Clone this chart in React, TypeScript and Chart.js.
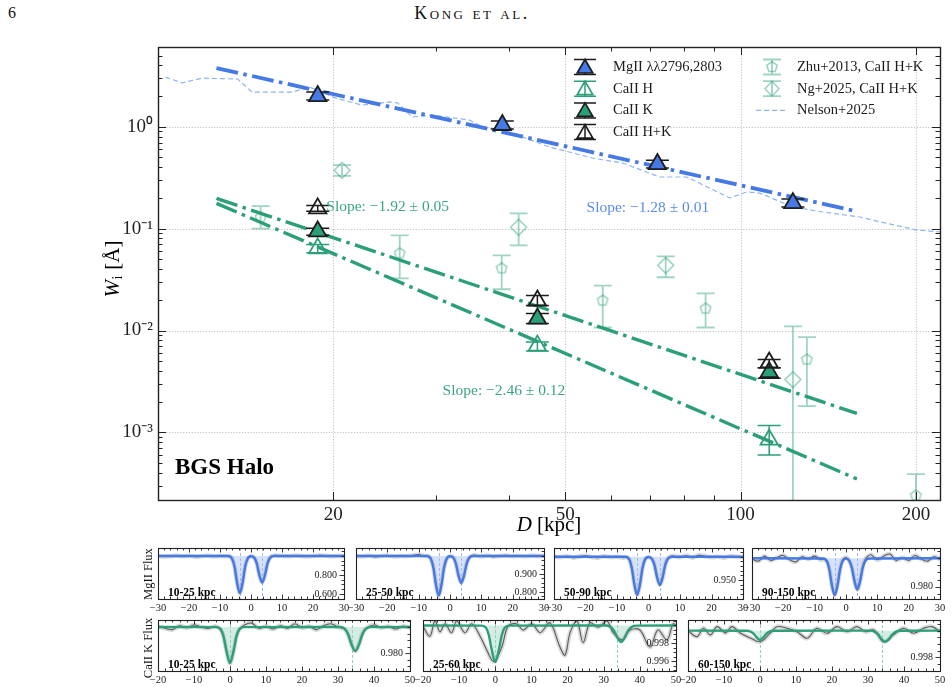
import React, { useEffect, useRef } from 'react';
import { Chart, registerables } from 'chart.js';

Chart.register(...registerables);

const SERIF = '"Liberation Serif", "Times New Roman", Times, serif';
const INK = '#1c1c1c';
const BLUE = '#4479e6';
const BLUE_TEXT = '#5a8cf0';
const BLUE_PALE = '#8fb3f7';
const GREEN = '#2b9f77';
const GREEN_TEXT = '#3aa680';
const GREEN_SOFT = 'rgba(43,159,119,0.45)';

// ---------- equivalent width vs. projected distance ----------
const D_TICKS = [20, 50, 100, 200];
const W_TICKS = [1e-3, 1e-2, 1e-1, 1];
const D_RANGE = [10, 220];
const W_RANGE = [2.17e-4, 6.06];

const MGII_D = [18.8, 39.0, 72.0, 123.0];
const MGII_W = [2.0, 1.04, 0.43, 0.178];
const MGII_LO = [1.83, 0.95, 0.393, 0.163];
const MGII_HI = [2.19, 1.14, 0.47, 0.195];

const CAII_D = [18.8, 44.8, 112.0];
const CAH_W = [0.064, 0.0071, 0.00085];
const CAH_LO = [0.058, 0.0063, 0.0006];
const CAH_HI = [0.07, 0.0077, 0.00117];
const CAK_W = [0.094, 0.0131, 0.0039];
const CAK_LO = [0.086, 0.0117, 0.0034];
const CAK_HI = [0.101, 0.0147, 0.0043];
const CAHK_W = [0.158, 0.0197, 0.00486];
const CAHK_LO = [0.148, 0.0176, 0.0043];
const CAHK_HI = [0.169, 0.0221, 0.0052];

const ZHU_D = [15.0, 26.0, 38.9, 58.0, 87.1, 130.0, 200.0];
const ZHU_W = [0.129, 0.0573, 0.0408, 0.0197, 0.0164, 0.00519, 0.00024];
const ZHU_LO = [0.1, 0.0325, 0.0254, 0.0107, 0.0107, 0.00181, 0.00001];
const ZHU_HI = [0.166, 0.086, 0.0547, 0.0276, 0.0231, 0.0086, 0.00039];

const NG_D = [20.7, 41.6, 74.4, 123.0];
const NG_W = [0.373, 0.103, 0.0436, 0.0033];
const NG_LO = [0.33, 0.0686, 0.0333, 0.00001];
const NG_HI = [0.42, 0.141, 0.0535, 0.011];

const NELSON_D = [10.3, 11.0, 11.9, 13.7, 14.5, 17.0, 18.2, 20.2, 22.4, 25.0, 25.8, 27.3, 29.6, 34.3, 36.1, 40.1, 47.0, 55.7, 62.8, 72.6, 80.8, 95.8, 102.5, 107.9, 122.9, 138.4, 160.3, 168.7, 200.8, 220.0];
const NELSON_W = [3.07, 2.69, 3.0, 2.94, 2.19, 2.19, 2.45, 1.91, 1.63, 1.75, 1.71, 1.245, 1.3, 1.16, 0.99, 0.887, 0.632, 0.493, 0.44, 0.321, 0.321, 0.2, 0.229, 0.223, 0.163, 0.1455, 0.13, 0.121, 0.0968, 0.0926];

// power-law fits, W = W20 * (D / 20)^slope  (MgII, CaII K, CaII H)
const FIT_D = [12.6, 158.4];
const FIT_PIVOT = 20;
const FIT_SLOPE = [-1.28, -1.92, -2.46];
const FIT_SLOPE_ERR = [0.01, 0.05, 0.12];
const FIT_W20 = [2.086, 0.0815, 0.0568];
// where each slope annotation sits (D, W)
const SLOPE_AT_D = [54.4, 19.45, 30.8];
const SLOPE_AT_W = [0.159, 0.162, 0.00258];

const LEGEND_LEFT = ['MgII \u03bb\u03bb2796,2803', 'CaII H', 'CaII K', 'CaII H+K'];
const LEGEND_RIGHT = ['Zhu+2013, CaII H+K', 'Ng+2025, CaII H+K', 'Nelson+2025'];

// ---------- stacked spectra ----------
const MG_VEL_TICKS = [-30, -20, -10, 0, 10, 20, 30];
const MG_LINE_CENTERS = [-3.6, 3.6];
const MG_BINS = ['10-25 kpc', '25-50 kpc', '50-90 kpc', '90-150 kpc'];
const MG_MODEL_VEL = [-30, -7.5, -6.1, -5.3, -4.5, -3.6, -2.7, -1.9, -1.1, 0, 1.1, 1.9, 2.7, 3.6, 4.5, 5.3, 6.1, 7.5, 30];
const MG_MODEL_1 = [1, 0.999, 0.97, 0.883, 0.719, 0.61, 0.719, 0.883, 0.97, 0.997, 0.979, 0.916, 0.798, 0.72, 0.798, 0.916, 0.979, 0.999, 1];
const MG_MODEL_2 = [1, 0.9995, 0.983, 0.934, 0.842, 0.78, 0.842, 0.934, 0.983, 0.998, 0.989, 0.955, 0.892, 0.85, 0.892, 0.955, 0.989, 0.9997, 1];
const MG_MODEL_3 = [1, 0.9998, 0.994, 0.975, 0.941, 0.918, 0.941, 0.975, 0.994, 0.9993, 0.995, 0.982, 0.956, 0.939, 0.956, 0.982, 0.995, 0.9999, 1];
const MG_MODEL_4 = [1, 0.9999, 0.998, 0.992, 0.981, 0.974, 0.981, 0.992, 0.998, 0.9998, 0.998, 0.993, 0.984, 0.978, 0.984, 0.993, 0.998, 0.9999, 1];
const MG_OBS_VEL = [-30, -28, -26, -24, -22, -20, -18, -16, -14, -12, -10, -8, -7, -6.1, -5.3, -4.5, -3.6, -2.7, -1.9, -1.1, 0, 1.1, 1.9, 2.7, 3.6, 4.5, 5.3, 6.1, 7, 8, 10, 12, 14, 16, 18, 20, 22, 24, 26, 28, 30];
const MG_OBS_1 = [1.0, 0.994, 0.998, 1.004, 0.996, 1.002, 0.993, 0.997, 1.005, 0.995, 1.001, 0.996, 1.002, 0.972, 0.884, 0.72, 0.612, 0.717, 0.882, 0.968, 0.994, 0.981, 0.914, 0.797, 0.722, 0.8, 0.918, 0.982, 1.003, 1.006, 1.002, 0.996, 1.004, 1.001, 0.995, 0.999, 1.006, 1.003, 0.996, 1.0, 0.998];
const MG_OBS_2 = [1.0, 0.997, 1.002, 0.996, 0.999, 1.003, 0.997, 1.0, 0.998, 1.002, 1.007, 0.998, 1.0, 0.984, 0.934, 0.843, 0.781, 0.842, 0.933, 0.982, 0.997, 0.99, 0.955, 0.891, 0.851, 0.893, 0.956, 0.99, 1.002, 1.004, 0.997, 1.002, 0.996, 1.0, 1.003, 0.998, 1.001, 0.997, 1.002, 0.999, 1.0];
const MG_OBS_3 = [1.0, 0.999, 1.001, 0.998, 1.0, 1.002, 0.999, 0.998, 1.001, 0.999, 1.0, 0.998, 0.999, 0.994, 0.975, 0.941, 0.919, 0.94, 0.976, 0.993, 0.999, 0.995, 0.982, 0.957, 0.94, 0.955, 0.981, 0.996, 1.001, 1.001, 0.999, 1.002, 0.998, 1.003, 1.001, 0.999, 1.0, 0.998, 1.001, 1.0, 0.999];
const MG_OBS_4 = [0.9995, 0.998, 1.0015, 0.9985, 1.0005, 1.002, 0.999, 0.9975, 1.001, 0.9995, 1.0015, 0.999, 0.9995, 0.9975, 0.992, 0.981, 0.9745, 0.9815, 0.992, 0.9985, 1.0005, 0.998, 0.993, 0.984, 0.978, 0.9835, 0.9935, 0.999, 1.0015, 1.0025, 0.999, 1.0015, 1.003, 0.9985, 1.0005, 0.9985, 1.002, 0.9995, 0.998, 1.001, 0.9995];
const MG_Y_MIN = [0.547, 0.761, 0.9092, 0.97134];
const MG_Y_MAX = [1.084, 1.044, 1.0187, 1.00725];
const MG_Y_LABELS = [[0.6, 0.8], [0.8, 0.9], [0.95], [0.98]];
const MG_Y_MINOR = [0.05, 0.025, 0.01, 0.005];

const CA_VEL_TICKS = [-20, -10, 0, 10, 20, 30, 40, 50];
const CA_LINE_CENTERS = [0, 33.8];
const CA_BINS = ['10-25 kpc', '25-60 kpc', '60-150 kpc'];
const CA_MODEL_VEL = [-20, -3.8, -2.6, -1.8, -1, 0, 1, 1.8, 2.6, 3.8, 30.5, 31.8, 32.8, 33.8, 34.8, 35.8, 36.8, 37.8, 39.1, 50];
const CA_MODEL_1 = [1, 0.9999, 0.9983, 0.9928, 0.9817, 0.9723, 0.9817, 0.9928, 0.9983, 0.9999, 1, 0.9987, 0.9945, 0.9863, 0.9815, 0.9863, 0.9945, 0.9987, 0.9999, 1];
const CA_MODEL_2 = [1, 0.99999, 0.99976, 0.99894, 0.99732, 0.99594, 0.99732, 0.99894, 0.99976, 0.99999, 1, 0.99987, 0.99945, 0.99865, 0.99817, 0.99865, 0.99945, 0.99987, 0.99999, 1];
const CA_MODEL_3 = [1, 0.99999, 0.99993, 0.99978, 0.99952, 0.9993, 0.99952, 0.99978, 0.99993, 0.99999, 1, 0.99993, 0.99972, 0.99935, 0.99917, 0.99935, 0.99972, 0.99993, 0.99999, 1];
const CA_OBS_VEL_1 = [-20, -18, -16, -14, -12, -10, -8, -6, -4, -2.6, -1.8, -1, 0, 1, 1.8, 2.6, 4, 6, 8, 10, 12, 14, 16, 18, 20, 22, 24, 26, 28, 30, 31.8, 32.8, 33.8, 34.8, 35.8, 36.8, 37.8, 40, 42, 44, 46, 48, 50];
const CA_OBS_1 = [1.0005, 0.999, 0.998, 1.001, 0.9995, 1.0015, 1.0, 0.999, 1.0005, 0.998, 0.9925, 0.982, 0.9725, 0.9815, 0.993, 0.998, 1.0015, 1.003, 0.999, 1.0005, 0.9985, 1.001, 0.999, 1.0025, 0.9995, 1.0005, 0.998, 1.001, 1.0025, 1.0, 0.9985, 0.994, 0.986, 0.9815, 0.9865, 0.995, 0.999, 1.0015, 0.9995, 1.0005, 0.9985, 1.0005, 0.9995];
const CA_OBS_VEL_2 = [-20, -18.1, -16.7, -15.3, -13.9, -12.1, -10.7, -8.4, -6.5, -4.2, -2.4, -0.4, 1.8, 3.5, 5.9, 7.7, 10.1, 12.4, 15.1, 17.9, 19.3, 20.7, 22.6, 24.3, 26.2, 28.4, 30.9, 32.6, 35.1, 37.3, 40.0, 42.8, 45.0, 47.5, 49.2, 50];
const CA_OBS_2 = [0.9999, 0.9988, 1.0005, 0.9993, 1.0002, 0.9992, 1.0005, 0.9992, 1.0002, 0.9988, 0.9973, 0.996, 0.9976, 0.9999, 1.0002, 0.9995, 1.0002, 0.9992, 1.0003, 0.9976, 0.9967, 0.9992, 1.0005, 0.9981, 1.0003, 0.9998, 1.0005, 0.9992, 0.9984, 0.9995, 0.9995, 0.9976, 0.9995, 0.9984, 1.0002, 1.0];
const CA_OBS_VEL_3 = [-20, -17.5, -15.7, -13.8, -11.9, -9.6, -7.8, -5.5, -2.7, 0.1, 2.9, 4.7, 7.5, 10.3, 13.1, 15.8, 18.6, 21.4, 24.2, 26.9, 29.3, 31.6, 34.3, 37.1, 39.9, 42.7, 45.4, 47.8, 50];
const CA_OBS_3 = [1.0, 0.99955, 1.00018, 0.99968, 1.0003, 0.99983, 1.0003, 0.99983, 0.99945, 0.99917, 0.99983, 1.0003, 1.00018, 0.99992, 0.99943, 1.00018, 0.9998, 1.0003, 0.99992, 1.0003, 0.99992, 1.00005, 0.99917, 0.99968, 1.00018, 0.9998, 1.00018, 1.0003, 0.99992];
const CA_Y_MIN = [0.9662, 0.99494, 0.99697];
const CA_Y_MAX = [1.0054, 1.00061, 1.0008];
const CA_Y_LABELS = [[0.98], [0.996, 0.998], [0.998]];
const CA_Y_MINOR = [0.005, 0.0005, 0.0005];

// panel boxes in page pixels: [left, top, right, bottom]
const MG_BOXES = [[158, 548, 344, 599], [356, 548, 544, 599], [554, 548, 743, 599], [752, 548, 940, 599]];
const CA_BOXES = [[158, 620, 410, 671], [423, 620, 676, 671], [688, 620, 940, 671]];
const PAD_X = 16;
const PAD_T = 14;
const LABEL_H = 18;

// ---------- helpers ----------
const pts = (xs: number[], ys: number[]) => xs.map((x, i) => ({ x, y: ys[i] }));
const SUP: Record<string, string> = { '-': '\u207b', '0': '\u2070', '1': '\u00b9', '2': '\u00b2', '3': '\u00b3', '4': '\u2074' };
const decadeLabel = (v: number) => '10' + String(Math.round(Math.log10(v))).split('').map((c) => SUP[c]).join('');
const signed = (v: number) => (v < 0 ? '\u2212' + Math.abs(v) : String(v));

function trianglePath(ctx: CanvasRenderingContext2D, x: number, y: number, r: number) {
  ctx.beginPath();
  ctx.moveTo(x, y - r);
  ctx.lineTo(x + 0.866 * r, y + 0.5 * r);
  ctx.lineTo(x - 0.866 * r, y + 0.5 * r);
  ctx.closePath();
}
function pentagonPath(ctx: CanvasRenderingContext2D, x: number, y: number, r: number) {
  ctx.beginPath();
  for (let k = 0; k < 5; k++) {
    const a = -Math.PI / 2 + (k * 2 * Math.PI) / 5;
    const px = x + r * Math.cos(a);
    const py = y + r * Math.sin(a);
    if (k) ctx.lineTo(px, py);
    else ctx.moveTo(px, py);
  }
  ctx.closePath();
}
function makePentagon(r: number, color: string, lw: number) {
  const s = Math.ceil(2 * r + 2 * lw + 2);
  const c = document.createElement('canvas');
  c.width = s;
  c.height = s;
  const g = c.getContext('2d')!;
  g.strokeStyle = color;
  g.lineWidth = lw;
  pentagonPath(g, s / 2, s / 2, r);
  g.stroke();
  return c;
}
function errBar(ctx: CanvasRenderingContext2D, x: number, y0: number, y1: number, cap: number, color: string, lw: number) {
  ctx.strokeStyle = color;
  ctx.lineWidth = lw;
  ctx.beginPath();
  ctx.moveTo(x, y0);
  ctx.lineTo(x, y1);
  ctx.moveTo(x - cap, y0);
  ctx.lineTo(x + cap, y0);
  ctx.moveTo(x - cap, y1);
  ctx.lineTo(x + cap, y1);
  ctx.stroke();
}

// vertical error bars drawn just beneath their own markers
const errorBars = {
  id: 'errorBars',
  beforeDatasetDraw(chart: any, args: any) {
    const ds = chart.data.datasets[args.index];
    if (!ds.errLo) return;
    const { ctx, chartArea: a } = chart;
    const xs = chart.scales.x;
    const ys = chart.scales.y;
    ctx.save();
    ctx.beginPath();
    ctx.rect(a.left, a.top, a.right - a.left, a.bottom - a.top);
    ctx.clip();
    ds.data.forEach((p: any, i: number) => {
      const x = xs.getPixelForValue(p.x);
      errBar(ctx, x, ys.getPixelForValue(ds.errLo[i]), ys.getPixelForValue(ds.errHi[i]), ds.errCap, ds.errColor, ds.errWidth);
    });
    ctx.restore();
  },
};

const mainDecor = {
  id: 'mainDecor',
  beforeDatasetsDraw(chart: any) {
    const { ctx, chartArea: a } = chart;
    const xs = chart.scales.x;
    const ys = chart.scales.y;
    ctx.save();
    ctx.strokeStyle = '#b4b4b4';
    ctx.lineWidth = 0.8;
    ctx.setLineDash([1.2, 1.6]);
    ctx.beginPath();
    D_TICKS.forEach((v) => {
      const px = Math.round(xs.getPixelForValue(v)) + 0.5;
      ctx.moveTo(px, a.top);
      ctx.lineTo(px, a.bottom);
    });
    W_TICKS.forEach((v) => {
      const py = Math.round(ys.getPixelForValue(v)) + 0.5;
      ctx.moveTo(a.left, py);
      ctx.lineTo(a.right, py);
    });
    ctx.stroke();
    ctx.restore();
  },
  afterDatasetsDraw(chart: any) {
    const { ctx, chartArea: a } = chart;
    const xs = chart.scales.x;
    const ys = chart.scales.y;
    ctx.save();
    ctx.strokeStyle = '#222';
    ctx.lineWidth = 1;
    ctx.beginPath();
    const xVals: number[] = [];
    for (let k = 2; k <= 9; k++) xVals.push(k * 10);
    xVals.push(100, 200);
    xVals.forEach((v) => {
      const px = Math.round(xs.getPixelForValue(v)) + 0.5;
      const len = D_TICKS.includes(v) ? 8 : 4.5;
      ctx.moveTo(px, a.bottom);
      ctx.lineTo(px, a.bottom - len);
      ctx.moveTo(px, a.top);
      ctx.lineTo(px, a.top + len);
    });
    for (let e = -4; e <= 0; e++) {
      for (let k = 1; k <= 9; k++) {
        const v = k * Math.pow(10, e);
        if (v < W_RANGE[0] || v > W_RANGE[1]) continue;
        const py = Math.round(ys.getPixelForValue(v)) + 0.5;
        const len = k === 1 ? 8 : 4.5;
        ctx.moveTo(a.left, py);
        ctx.lineTo(a.left + len, py);
        ctx.moveTo(a.right, py);
        ctx.lineTo(a.right - len, py);
      }
    }
    ctx.stroke();
    ctx.lineWidth = 1.4;
    ctx.strokeRect(Math.round(a.left) + 0.5, Math.round(a.top) + 0.5, Math.round(a.right - a.left), Math.round(a.bottom - a.top));
    ctx.restore();
  },
  afterDraw(chart: any) {
    const { ctx, chartArea: a } = chart;
    const xs = chart.scales.x;
    const ys = chart.scales.y;
    ctx.save();

    // slope annotations
    ctx.font = `15.5px ${SERIF}`;
    ctx.textAlign = 'left';
    ctx.textBaseline = 'middle';
    const slopeColors = [BLUE_TEXT, GREEN_TEXT, GREEN_TEXT];
    FIT_SLOPE.forEach((s, i) => {
      ctx.fillStyle = slopeColors[i];
      const txt = `Slope: \u2212${Math.abs(s).toFixed(2)} \u00b1 ${FIT_SLOPE_ERR[i].toFixed(2)}`;
      ctx.fillText(txt, xs.getPixelForValue(SLOPE_AT_D[i]), ys.getPixelForValue(SLOPE_AT_W[i]));
    });

    // sample label
    ctx.fillStyle = '#000';
    ctx.font = `bold 23px ${SERIF}`;
    ctx.textBaseline = 'alphabetic';
    ctx.fillText('BGS Halo', a.left + 17, a.bottom - 26);

    // legend
    const rowY = (i: number) => a.top + 20 + i * 21.7;
    const x1 = a.left + 427;
    const t1 = a.left + 455;
    const x2 = a.left + 614;
    const t2 = a.left + 639;
    ctx.font = `14.5px ${SERIF}`;
    ctx.textBaseline = 'middle';
    ctx.fillStyle = INK;
    LEGEND_LEFT.forEach((label, i) => {
      const y = rowY(i);
      const barColor = i === 1 ? GREEN : INK;
      errBar(ctx, x1, y - 7.5, y + 7.5, 11, barColor, 1.5);
      trianglePath(ctx, x1, y + 1.5, 9);
      const fills = [BLUE, null, GREEN, null];
      const edges = [INK, GREEN, INK, INK];
      if (fills[i]) {
        ctx.fillStyle = fills[i] as string;
        ctx.fill();
      }
      ctx.strokeStyle = edges[i];
      ctx.lineWidth = 1.7;
      ctx.stroke();
      ctx.fillStyle = INK;
      ctx.fillText(label, t1, y);
    });
    LEGEND_RIGHT.forEach((label, i) => {
      const y = rowY(i);
      if (i < 2) {
        errBar(ctx, x2, y - 7.5, y + 7.5, 9, GREEN_SOFT, 1.8);
        ctx.strokeStyle = GREEN_SOFT;
        ctx.lineWidth = 1.6;
        if (i === 0) pentagonPath(ctx, x2, y, 5.5);
        else {
          ctx.beginPath();
          ctx.moveTo(x2 - 7, y);
          ctx.lineTo(x2, y - 7.5);
          ctx.lineTo(x2 + 7, y);
          ctx.lineTo(x2, y + 7.5);
          ctx.closePath();
        }
        ctx.stroke();
      } else {
        ctx.strokeStyle = BLUE_PALE;
        ctx.lineWidth = 1.2;
        ctx.setLineDash([5, 3]);
        ctx.beginPath();
        ctx.moveTo(x2 - 16, y);
        ctx.lineTo(x2 + 14, y);
        ctx.stroke();
        ctx.setLineDash([]);
      }
      ctx.fillStyle = INK;
      ctx.fillText(label, t2, y);
    });

    // axis titles
    ctx.fillStyle = '#000';
    ctx.textBaseline = 'middle';
    const cx = (a.left + a.right) / 2;
    ctx.font = `italic 21px ${SERIF}`;
    const wD = ctx.measureText('D').width;
    ctx.font = `21px ${SERIF}`;
    const wRest = ctx.measureText(' [kpc]').width;
    let x0 = cx - (wD + wRest) / 2;
    ctx.textAlign = 'left';
    ctx.font = `italic 21px ${SERIF}`;
    ctx.fillText('D', x0, a.bottom + 25);
    ctx.font = `21px ${SERIF}`;
    ctx.fillText(' [kpc]', x0 + wD, a.bottom + 25);

    ctx.translate(a.left - 45, (a.top + a.bottom) / 2 - 4);
    ctx.rotate(-Math.PI / 2);
    ctx.font = `italic 21px ${SERIF}`;
    const wW = ctx.measureText('W').width;
    ctx.font = `italic 14px ${SERIF}`;
    const wi = ctx.measureText('i').width;
    ctx.font = `21px ${SERIF}`;
    const wU = ctx.measureText(' [\u00c5]').width;
    x0 = -(wW + wi + wU) / 2;
    ctx.font = `italic 21px ${SERIF}`;
    ctx.fillText('W', x0, 0);
    ctx.font = `14px ${SERIF}`;
    ctx.fillText('i', x0 + wW + 0.5, 5);
    ctx.font = `21px ${SERIF}`;
    ctx.fillText(' [\u00c5]', x0 + wW + wi + 1, 0);
    ctx.restore();
  },
};

function MainChart() {
  const ref = useRef<HTMLCanvasElement>(null);
  useEffect(() => {
    const pent = makePentagon(5.5, GREEN_SOFT, 1.6);
    const fit = (i: number, color: string) => ({
      data: FIT_D.map((d) => ({ x: d, y: FIT_W20[i] * Math.pow(d / FIT_PIVOT, FIT_SLOPE[i]) })),
      showLine: true,
      borderColor: color,
      borderWidth: i === 0 ? 3.8 : 3.4,
      borderDash: [22, 5.5, 3.5, 5.5],
      borderCapStyle: 'butt',
      pointRadius: 0,
      tension: 0,
    });
    const tri = (d: number[], w: number[], lo: number[], hi: number[], fill: string, edge: string, bar: string) => ({
      data: pts(d, w),
      showLine: false,
      pointStyle: 'triangle',
      pointRadius: 10,
      pointBackgroundColor: fill,
      pointBorderColor: edge,
      pointBorderWidth: 1.8,
      errLo: lo,
      errHi: hi,
      errColor: bar,
      errCap: 11.5,
      errWidth: 1.5,
    });
    const chart = new Chart(ref.current!, {
      type: 'line',
      data: {
        datasets: [
          tri(MGII_D, MGII_W, MGII_LO, MGII_HI, BLUE, INK, INK),
          tri(CAII_D, CAHK_W, CAHK_LO, CAHK_HI, 'rgba(0,0,0,0)', INK, INK),
          tri(CAII_D, CAK_W, CAK_LO, CAK_HI, GREEN, INK, INK),
          tri(CAII_D, CAH_W, CAH_LO, CAH_HI, 'rgba(0,0,0,0)', GREEN, GREEN),
          {
            data: pts(NG_D, NG_W),
            showLine: false,
            pointStyle: 'rectRot',
            pointRadius: 8,
            pointBackgroundColor: 'rgba(0,0,0,0)',
            pointBorderColor: GREEN_SOFT,
            pointBorderWidth: 1.6,
            errLo: NG_LO,
            errHi: NG_HI,
            errColor: GREEN_SOFT,
            errCap: 9,
            errWidth: 1.8,
          },
          {
            data: pts(ZHU_D, ZHU_W),
            showLine: false,
            pointStyle: pent,
            pointRadius: 6,
            errLo: ZHU_LO,
            errHi: ZHU_HI,
            errColor: GREEN_SOFT,
            errCap: 9,
            errWidth: 1.8,
          },
          fit(0, BLUE),
          fit(1, GREEN),
          fit(2, GREEN),
          {
            data: pts(NELSON_D, NELSON_W),
            showLine: true,
            borderColor: BLUE_PALE,
            borderWidth: 1.2,
            borderDash: [5, 3],
            pointRadius: 0,
            tension: 0,
          },
        ] as any,
      },
      options: {
        responsive: false,
        animation: false,
        events: [],
        layout: { padding: { left: 98, top: 47, right: 12, bottom: 14 } },
        plugins: { legend: { display: false }, tooltip: { enabled: false } },
        scales: {
          x: {
            type: 'logarithmic',
            min: D_RANGE[0],
            max: D_RANGE[1],
            afterBuildTicks: (s: any) => {
              s.ticks = D_TICKS.map((v) => ({ value: v }));
            },
            afterFit: (s: any) => {
              s.height = 26;
            },
            ticks: {
              autoSkip: false,
              maxRotation: 0,
              padding: 4,
              color: '#222',
              font: { family: SERIF, size: 19 },
              callback: (v: any) => String(v),
            },
            grid: { display: false, drawTicks: false },
            border: { display: false },
          },
          y: {
            type: 'logarithmic',
            min: W_RANGE[0],
            max: W_RANGE[1],
            afterBuildTicks: (s: any) => {
              s.ticks = W_TICKS.map((v) => ({ value: v }));
            },
            afterFit: (s: any) => {
              s.width = 60;
            },
            ticks: {
              autoSkip: false,
              padding: 5,
              color: '#222',
              font: { family: SERIF, size: 19 },
              callback: (v: any) => decadeLabel(Number(v)),
            },
            grid: { display: false, drawTicks: false },
            border: { display: false },
          },
        },
      } as any,
      plugins: [errorBars, mainDecor],
    });
    return () => chart.destroy();
  }, []);
  return <canvas ref={ref} width={952} height={540} style={{ position: 'absolute', left: 0, top: 0 }} />;
}

type PanelSpec = {
  bin: string;
  modelVel: number[];
  model: number[];
  obsVel: number[];
  obs: number[];
  yMin: number;
  yMax: number;
  yLabels: number[];
  yMinor: number;
  velTicks: number[];
  centers: number[];
  line: string;
  fill: string;
  dash: string;
};

const panelDecor = (spec: PanelSpec) => ({
  id: 'panelDecor',
  beforeDatasetsDraw(chart: any) {
    const { ctx, chartArea: a } = chart;
    const xs = chart.scales.x;
    ctx.save();
    ctx.strokeStyle = spec.dash;
    ctx.lineWidth = 1;
    ctx.setLineDash([3, 2]);
    ctx.beginPath();
    spec.centers.forEach((c) => {
      const px = Math.round(xs.getPixelForValue(c)) + 0.5;
      ctx.moveTo(px, a.top);
      ctx.lineTo(px, a.bottom);
    });
    ctx.stroke();
    ctx.restore();
  },
  afterDatasetsDraw(chart: any) {
    const { ctx, chartArea: a } = chart;
    const xs = chart.scales.x;
    const ys = chart.scales.y;
    ctx.save();
    ctx.strokeStyle = '#222';
    ctx.lineWidth = 0.9;
    ctx.beginPath();
    const v0 = spec.velTicks[0];
    const v1 = spec.velTicks[spec.velTicks.length - 1];
    for (let v = v0; v <= v1 + 1e-9; v += 2) {
      const px = Math.round(xs.getPixelForValue(v)) + 0.5;
      const len = Math.abs(v % 10) < 1e-6 ? 4.5 : 2.5;
      ctx.moveTo(px, a.bottom);
      ctx.lineTo(px, a.bottom - len);
      ctx.moveTo(px, a.top);
      ctx.lineTo(px, a.top + len);
    }
    const k0 = Math.ceil(spec.yMin / spec.yMinor - 1e-6);
    const k1 = Math.floor(spec.yMax / spec.yMinor + 1e-6);
    for (let k = k0; k <= k1; k++) {
      const v = k * spec.yMinor;
      const py = Math.round(ys.getPixelForValue(v)) + 0.5;
      const major = spec.yLabels.some((l) => Math.abs(l - v) < spec.yMinor * 0.1);
      ctx.moveTo(a.right, py);
      ctx.lineTo(a.right - (major ? 4.5 : 2.5), py);
    }
    ctx.stroke();
    ctx.lineWidth = 1.1;
    ctx.strokeRect(Math.round(a.left) + 0.5, Math.round(a.top) + 0.5, Math.round(a.right - a.left), Math.round(a.bottom - a.top));
    ctx.restore();
  },
  afterDraw(chart: any) {
    const { ctx, chartArea: a } = chart;
    const ys = chart.scales.y;
    ctx.save();
    // flux tick labels sit inside the frame, against the right edge
    ctx.fillStyle = '#222';
    ctx.font = `10px ${SERIF}`;
    ctx.textAlign = 'right';
    ctx.textBaseline = 'middle';
    spec.yLabels.forEach((v) => {
      ctx.fillText(v.toFixed(3), a.right - 7, ys.getPixelForValue(v));
    });
    ctx.fillStyle = '#000';
    ctx.font = `bold 11.5px ${SERIF}`;
    ctx.textAlign = 'left';
    ctx.textBaseline = 'alphabetic';
    ctx.fillText(spec.bin, a.left + 10, a.bottom - 3);
    ctx.restore();
  },
});

function FluxPanel({ spec, box }: { spec: PanelSpec; box: number[] }) {
  const ref = useRef<HTMLCanvasElement>(null);
  const [l, t, r, b] = box;
  const w = r - l + 2 * PAD_X;
  const h = b - t + PAD_T + LABEL_H;
  useEffect(() => {
    const obs = pts(spec.obsVel, spec.obs);
    const chart = new Chart(ref.current!, {
      type: 'line',
      data: {
        datasets: [
          {
            data: pts(spec.modelVel, spec.model),
            borderColor: spec.line,
            borderWidth: 2.4,
            pointRadius: 0,
            fill: { value: 1 },
            backgroundColor: spec.fill,
            cubicInterpolationMode: 'monotone',
          },
          { data: obs, borderColor: '#5c5c5c', borderWidth: 1.1, pointRadius: 0, tension: 0.35 },
          { data: obs, borderColor: 'rgba(165,165,165,0.42)', borderWidth: 4.5, pointRadius: 0, tension: 0.35 },
        ] as any,
      },
      options: {
        responsive: false,
        animation: false,
        events: [],
        layout: { padding: { left: PAD_X, right: PAD_X, top: PAD_T, bottom: 0 } },
        plugins: { legend: { display: false }, tooltip: { enabled: false }, filler: { drawTime: 'beforeDatasetsDraw' } },
        scales: {
          x: {
            type: 'linear',
            min: spec.velTicks[0],
            max: spec.velTicks[spec.velTicks.length - 1],
            afterBuildTicks: (s: any) => {
              s.ticks = spec.velTicks.map((v) => ({ value: v }));
            },
            afterFit: (s: any) => {
              s.height = LABEL_H;
            },
            ticks: {
              autoSkip: false,
              maxRotation: 0,
              padding: 3,
              color: '#222',
              font: { family: SERIF, size: 10.5 },
              callback: (v: any) => signed(Number(v)),
            },
            grid: { display: false, drawTicks: false },
            border: { display: false },
          },
          y: {
            type: 'linear',
            display: false,
            min: spec.yMin,
            max: spec.yMax,
          },
        },
      } as any,
      plugins: [panelDecor(spec)],
    });
    return () => chart.destroy();
  }, [spec]);
  return <canvas ref={ref} width={w} height={h} style={{ position: 'absolute', left: l - PAD_X, top: t - PAD_T }} />;
}

const MG_SPECS: PanelSpec[] = MG_BINS.map((bin, i) => ({
  bin,
  modelVel: MG_MODEL_VEL,
  model: [MG_MODEL_1, MG_MODEL_2, MG_MODEL_3, MG_MODEL_4][i],
  obsVel: MG_OBS_VEL,
  obs: [MG_OBS_1, MG_OBS_2, MG_OBS_3, MG_OBS_4][i],
  yMin: MG_Y_MIN[i],
  yMax: MG_Y_MAX[i],
  yLabels: MG_Y_LABELS[i],
  yMinor: MG_Y_MINOR[i],
  velTicks: MG_VEL_TICKS,
  centers: MG_LINE_CENTERS,
  line: BLUE,
  fill: 'rgba(68,121,230,0.22)',
  dash: '#9dbaf3',
}));

const CA_SPECS: PanelSpec[] = CA_BINS.map((bin, i) => ({
  bin,
  modelVel: CA_MODEL_VEL,
  model: [CA_MODEL_1, CA_MODEL_2, CA_MODEL_3][i],
  obsVel: [CA_OBS_VEL_1, CA_OBS_VEL_2, CA_OBS_VEL_3][i],
  obs: [CA_OBS_1, CA_OBS_2, CA_OBS_3][i],
  yMin: CA_Y_MIN[i],
  yMax: CA_Y_MAX[i],
  yLabels: CA_Y_LABELS[i],
  yMinor: CA_Y_MINOR[i],
  velTicks: CA_VEL_TICKS,
  centers: CA_LINE_CENTERS,
  line: GREEN,
  fill: 'rgba(43,159,119,0.2)',
  dash: '#92d2bb',
}));

export default function App() {
  const sideTitle: React.CSSProperties = {
    position: 'absolute',
    left: 148,
    transform: 'translate(-50%, -50%) rotate(-90deg)',
    whiteSpace: 'nowrap',
    fontFamily: SERIF,
    fontSize: 12.5,
    color: '#111',
    lineHeight: 1,
  };
  return (
    <div style={{ position: 'absolute', left: 0, top: 0, width: 952, height: 687, background: '#fff', overflow: 'hidden' }}>
      <div style={{ position: 'absolute', left: 8, top: 4, fontFamily: SERIF, fontSize: 16, color: '#111' }}>6</div>
      <div
        style={{
          position: 'absolute',
          left: 472,
          top: 3,
          transform: 'translateX(-50%)',
          fontFamily: SERIF,
          fontSize: 18,
          fontVariant: 'small-caps',
          letterSpacing: 2.5,
          color: '#111',
          whiteSpace: 'nowrap',
        }}
      >
        Kong et al.
      </div>
      <MainChart />
      {MG_SPECS.map((s, i) => (
        <FluxPanel key={'mg' + i} spec={s} box={MG_BOXES[i]} />
      ))}
      {CA_SPECS.map((s, i) => (
        <FluxPanel key={'ca' + i} spec={s} box={CA_BOXES[i]} />
      ))}
      <div style={{ ...sideTitle, top: 574 }}>MgII Flux</div>
      <div style={{ ...sideTitle, top: 648 }}>CaII K Flux</div>
    </div>
  );
}
